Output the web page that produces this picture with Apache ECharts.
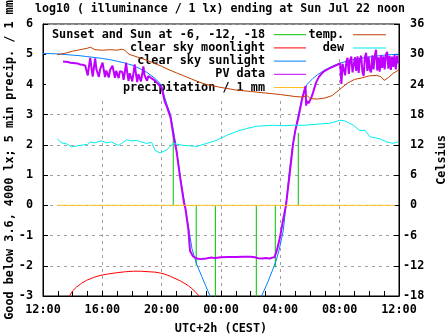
<!DOCTYPE html>
<html><head><meta charset="utf-8">
<script src="https://cdn.jsdelivr.net/npm/echarts@6/dist/echarts.min.js"></script>
<style>html,body{margin:0;padding:0;background:#fff}#c{width:447px;height:335px}</style>
</head><body><div id="c"></div>
<script>
// hours after Sat 12:00 (UTC+2)
const titleText = 'log10 ( illuminance / 1 lx) ending at Sun Jul 22 noon';
const xTickHours = [0, 4, 8, 12, 16, 20, 24];

// Sunset / Sun at -6, -12, -18 markers: time and top value (log10 lx)
const sunTimes   = [8.78, 9.51, 10.33, 11.62, 14.38, 15.66, 16.38, 17.21];
const sunHeights = [2.42, 0.12, -2.0, -3.5, -3.5, -2.05, 0.12, 2.4];

// clear sky moonlight [hour, log10 lx]
const moonData = [[1.5,-3.6],[1.65,-3.25],[1.82,-2.97],[2.0,-2.83],[2.27,-2.7],[2.6,-2.58],[2.94,-2.48],[3.4,-2.39],[3.84,-2.32],[4.4,-2.27],[4.97,-2.23],[5.5,-2.2],[6.09,-2.18],[6.6,-2.18],[7.21,-2.2],[7.55,-2.21],[7.9,-2.24],[8.22,-2.28],[8.6,-2.35],[8.9,-2.42],[9.25,-2.5],[9.57,-2.59],[9.8,-2.66],[10.02,-2.75],[10.25,-2.85],[10.47,-2.97],[10.8,-3.4]];

// clear sky sunlight [hour, log10 lx]
const sunlightData = [[0,5.02],[0.5,5.02],[1.0,5.01],[1.5,4.99],[2.0,4.97],[2.5,4.95],[3.0,4.92],[3.5,4.89],[4.0,4.86],[4.5,4.82],[5.0,4.77],[5.5,4.71],[6.0,4.64],[6.5,4.53],[7.0,4.40],[7.5,4.22],[7.8,4.08],[8.0,3.95],[8.2,3.58],[8.4,3.27],[8.6,3.0],[8.8,2.45],[8.95,2.0],[9.1,1.5],[9.24,1.0],[9.4,0.5],[9.57,0.0],[9.8,-0.7],[10.05,-1.45],[10.36,-1.95],[10.7,-2.35],[11.0,-2.7],[11.26,-3.0],[11.6,-3.4],[12.0,-3.7],[14.0,-3.8],[14.4,-3.4],[14.74,-3.0],[15.19,-2.5],[15.69,-1.87],[15.91,-1.5],[16.2,-0.83],[16.38,0.0],[16.58,1.0],[16.83,2.0],[17.21,3.0],[17.44,3.5],[17.6,3.78],[17.8,4.0],[18.2,4.2],[18.5,4.32],[19.0,4.48],[19.5,4.6],[20.0,4.7],[20.5,4.77],[21.0,4.83],[21.5,4.87],[22.0,4.91],[22.5,4.94],[23.0,4.97],[23.5,4.99],[24.0,5.0]];

// PV data, afternoon, 5-minute samples starting at 1.35 h
const pvAfternoonStart = 1.35;
const pvAfternoon = [4.76,4.75,4.75,4.74,4.74,4.73,4.72,4.72,
  4.71,4.70,4.70,4.68,4.69,4.67,4.66,4.66,4.65,4.64,4.62,
  4.58,4.30,4.60,4.88,4.55,4.26,4.57,4.86,4.50,
  4.52,4.25,4.50,4.48,4.72,4.47,4.24,4.46,4.45,4.23,4.47,4.44,4.62,4.43,4.22,4.45,4.42,4.21,4.44,4.40,
  4.41,4.15,4.40,4.72,4.38,4.12,4.37,4.36,4.10,4.38,4.66,4.35,4.08,4.34,4.33,4.10,4.32,4.60,4.30,
  4.29,4.12,4.28,4.25,4.22,4.20,4.17,4.14,4.10,4.06,4.01,3.96];
// PV data, dusk / night / dawn [hour, log10 lx]
const pvNight = [[8.0,3.88],[8.2,3.45],[8.4,3.2],[8.6,2.9],[8.8,2.3],[9.0,1.8],[9.25,0.9],[9.5,0.1],[9.6,-0.1],[9.8,-0.8],[9.91,-1.5],[10.1,-1.68],[10.36,-1.76],[10.6,-1.78],[11.0,-1.76],[11.3,-1.73],[11.6,-1.74],[11.7,-1.71],[12.0,-1.72],[12.5,-1.71],[13.0,-1.71],[13.5,-1.70],[14.0,-1.70],[14.3,-1.72],[14.5,-1.75],[14.8,-1.76],[15.0,-1.74],[15.3,-1.76],[15.45,-1.73],[15.53,-1.68],[15.6,-1.72],[15.76,-1.5],[15.98,-1.05],[16.18,-0.5],[16.38,0.0],[16.62,1.0],[16.85,2.0],[17.0,2.45],[17.26,3.0],[17.46,3.5],[17.62,3.8],[17.7,3.95],[17.74,3.3],[17.8,3.45],[17.9,3.38],[18.0,3.47],[18.1,3.58],[18.2,3.72],[18.4,4.05],[18.6,4.25],[18.8,4.37],[19.0,4.45],[19.3,4.53],[19.6,4.6],[19.87,4.66]];
// PV data, morning, 5-minute samples starting at 19.95 h
const pvMorningStart = 19.95;
const pvMorning = [4.66,4.70,4.02,4.68,4.72,4.30,4.75,4.88,4.35,4.80,4.92,4.40,4.38,4.90,4.45,4.93,4.38,4.85,4.95,4.42,4.28,4.90,5.05,4.45,4.92,4.48,4.40,4.96,4.50,4.95,5.15,4.46,4.90,4.42,4.97,4.55,4.93,4.50,4.98,5.08,4.52,4.95,4.48,4.92,4.58,4.97,4.50,4.95,4.70];

// precipitation / 1 mm
const precipTimes  = [0.95, 3, 6, 9, 12, 15, 18, 21, 23.75];
const precipValues = [0, 0, 0, 0, 0, 0, 0, 0, 0];

// temperature and dew point [hour, Celsius]
const tempData = [[0.95,29.9],[1.5,30.2],[2.0,30.6],[2.5,30.9],[3.0,31.2],[3.2,31.4],[3.5,30.9],[4.0,30.8],[4.5,30.9],[5.0,30.8],[5.3,31.0],[5.5,30.8],[5.8,30.0],[6.0,29.8],[6.5,29.3],[7.0,28.8],[7.5,28.2],[8.0,27.6],[8.5,26.9],[9.0,26.3],[9.5,25.7],[10.0,25.1],[10.5,24.5],[11.0,24.0],[11.5,23.7],[12.0,23.4],[13.0,22.9],[14.0,22.6],[15.0,22.3],[16.0,22.0],[17.0,21.6],[17.5,21.5],[17.8,21.8],[18.0,21.2],[18.5,21.1],[19.0,21.3],[19.5,21.8],[20.0,23.0],[20.5,24.2],[21.0,25.0],[21.5,25.3],[22.0,25.7],[22.5,25.8],[22.8,25.5],[23.0,24.8],[23.3,25.4],[23.6,26.2],[24.0,26.9]];
const dewData = [[0.96,13.2],[1.1,12.8],[1.26,12.4],[1.6,12.2],[1.93,11.6],[2.3,11.8],[2.72,12.0],[3.0,12.1],[3.17,12.6],[3.5,12.4],[3.96,12.8],[4.29,12.4],[4.6,12.6],[5.08,11.9],[5.3,12.3],[5.64,13.0],[6.0,12.8],[6.32,12.9],[6.6,12.6],[6.99,12.3],[7.33,12.5],[7.55,10.9],[7.89,10.4],[8.34,11.0],[8.78,12.3],[9.1,12.1],[9.46,11.9],[9.9,11.8],[10.36,11.7],[11.04,12.3],[11.71,12.9],[12.38,13.9],[13.28,14.9],[13.8,15.3],[14.41,15.7],[15.53,15.9],[16.2,15.8],[16.87,15.9],[17.6,15.9],[18.45,16.1],[19.35,16.3],[20.02,16.9],[20.3,16.8],[20.47,16.6],[20.92,15.9],[21.37,14.8],[21.71,14.9],[22.05,13.6],[22.4,13.4],[22.72,13.2],[23.17,12.6],[23.62,12.3],[23.8,12.5],[23.95,12.6]];

// ---- build series data from the arrays ----
const sunLines = [];
sunTimes.forEach((t, i) => { sunLines.push([t, 0], [t, sunHeights[i]], [t, '-']); });
const pvData = pvAfternoon.map((v, i) => [pvAfternoonStart + i / 12, v])
  .concat(pvNight)
  .concat(pvMorning.map((v, i) => [pvMorningStart + i / 12, v]));
const precipData = precipTimes.map((t, i) => [t, precipValues[i]]);

const FONT = 'DejaVu Sans Mono';
const txt = {fontFamily: FONT, fontWeight: 'bold', fontSize: 11.8, color: '#000'};
function fmtHour(v) { const h = (12 + v) % 24; return (h < 10 ? '0' : '') + h + ':00'; }
function fmtY2(v) { return (v >= 0 ? ' ' : '') + v; }

function lineSeries(name, data, color, width, yIdx) {
  return {name, type: 'line', data, yAxisIndex: yIdx || 0, showSymbol: false, symbol: 'none',
    connectNulls: false, clip: true, animation: false,
    itemStyle: {color}, lineStyle: {color, width: width || 1}, emphasis: {disabled: true}};
}

const chart = echarts.init(document.getElementById('c'), null, {renderer: 'canvas'});
chart.setOption({
  animation: false,
  backgroundColor: '#fff',
  title: {text: titleText, left: 215, textAlign: 'center', top: -2,
    textStyle: Object.assign({}, txt, {fontSize: 11.6})},
  grid: {left: 43, right: 48, top: 24, bottom: 39, containLabel: false, outerBoundsMode: 'none',
    show: true, borderColor: '#000', borderWidth: 1, backgroundColor: 'transparent'},
  legend: [
    {z: 1, selectedMode: false, orient: 'vertical', align: 'right', right: 137, top: 25.2,
     padding: [3, 4, 4, 6], backgroundColor: '#fff', itemWidth: 32, itemHeight: 1, itemGap: 0.2, icon: 'rect',
     textStyle: Object.assign({}, txt, {lineHeight: 13, padding: [0, 4, 0, 0]}),
     data: ['Sunset and Sun at -6, -12, -18', 'clear sky moonlight', 'clear sky sunlight', 'PV data', 'precipitation / 1 mm']},
    {z: 1, selectedMode: false, orient: 'vertical', align: 'right', right: 57, top: 25.2,
     padding: [3, 4, 4, 6], backgroundColor: '#fff', itemWidth: 33, itemHeight: 1, itemGap: 0.2, icon: 'rect',
     textStyle: Object.assign({}, txt, {lineHeight: 13, padding: [0, 4, 0, 0]}),
     data: ['temp.', 'dew']}
  ],
  xAxis: {type: 'value', min: xTickHours[0], max: xTickHours[xTickHours.length - 1], interval: 4,
    name: 'UTC+2h (CEST)', nameLocation: 'middle', nameGap: 27, nameTextStyle: txt, nameMoveOverlap: false,
    axisLine: {onZero: false, lineStyle: {color: '#000', width: 1}},
    axisTick: {inside: true, length: 5, lineStyle: {color: '#000'}},
    minorTick: {show: true, splitNumber: 4, length: 5, lineStyle: {color: '#000'}},
    axisLabel: Object.assign({}, txt, {margin: 8, formatter: fmtHour}),
    splitLine: {show: true, lineStyle: {color: '#a0a0a0', type: [3, 4], width: 1}}},
  yAxis: [
    {type: 'value', min: -3, max: 6, interval: 1, position: 'left',
     name: 'Good below 3.6, 4000 lx; 5 min precip. / 1 mm', nameLocation: 'middle', nameGap: 27,
     nameTextStyle: txt, nameMoveOverlap: false,
     axisLine: {show: true, onZero: false, lineStyle: {color: '#000'}},
     axisTick: {inside: true, length: 5, lineStyle: {color: '#000'}},
     axisLabel: Object.assign({}, txt, {margin: 10}),
     splitLine: {show: true, lineStyle: {color: '#a0a0a0', type: [3, 4], width: 1}}},
    {type: 'value', min: -18, max: 36, interval: 6, position: 'right',
     name: 'Celsius', nameLocation: 'middle', nameGap: 37, nameTextStyle: txt, nameMoveOverlap: false,
     axisLine: {show: true, onZero: false, lineStyle: {color: '#000'}},
     axisTick: {inside: true, length: 5, lineStyle: {color: '#000'}},
     axisLabel: Object.assign({}, txt, {margin: 4, align: 'left', formatter: fmtY2}),
     splitLine: {show: false}}
  ],
  series: [
    lineSeries('Sunset and Sun at -6, -12, -18', sunLines, '#00c000', 1),
    lineSeries('clear sky moonlight', moonData, '#ff0000', 1),
    lineSeries('clear sky sunlight', sunlightData, '#0080ff', 1),
    lineSeries('PV data', pvData, '#c000ff', 2),
    lineSeries('precipitation / 1 mm', precipData, '#ffc020', 1),
    lineSeries('temp.', tempData, '#c04000', 1, 1),
    lineSeries('dew', dewData, '#00eeee', 1, 1)
  ]
});
</script></body></html>
